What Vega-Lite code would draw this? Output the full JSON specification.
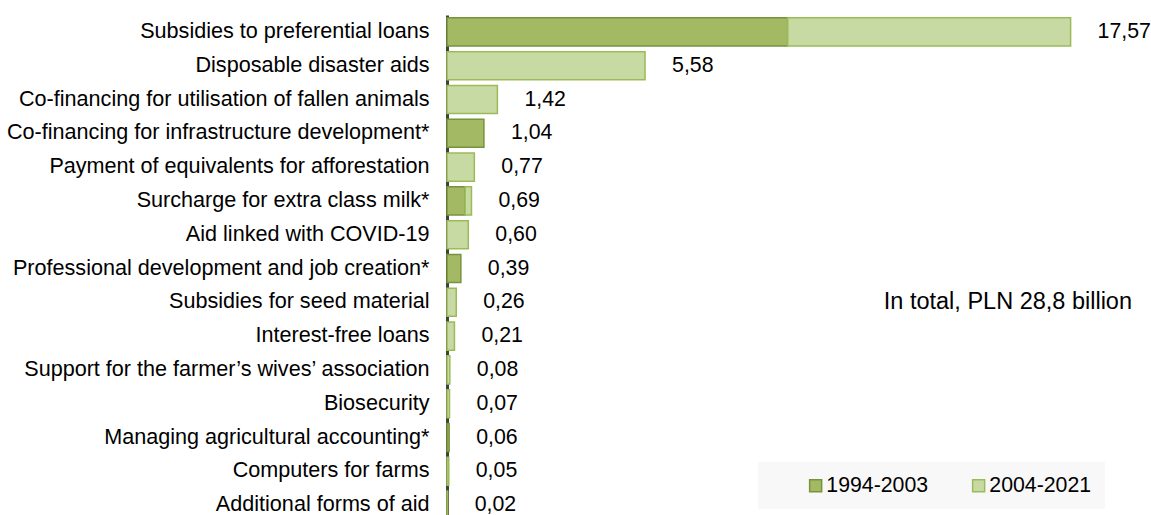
{
  "$schema": "https://vega.github.io/schema/vega-lite/v6.json",
  "width": 685,
  "height": 507,
  "autosize": {"type": "none"},
  "padding": {"left": 447, "top": 15, "right": 19, "bottom": 0},
  "background": "white",
  "config": {
    "font": "Liberation Sans",
    "view": {"stroke": null},
    "locale": {"number": {"decimal": ",", "thousands": " ", "grouping": [3], "currency": ["", " zł"]}}
  },
  "data": {
    "values": [
      {"cat": "Subsidies to preferential loans", "period": "1994-2003", "value": 9.60},
      {"cat": "Subsidies to preferential loans", "period": "2004-2021", "value": 7.97},
      {"cat": "Disposable disaster aids", "period": "2004-2021", "value": 5.58},
      {"cat": "Co-financing for utilisation of fallen animals", "period": "2004-2021", "value": 1.42},
      {"cat": "Co-financing for infrastructure development*", "period": "1994-2003", "value": 1.04},
      {"cat": "Payment of equivalents for afforestation", "period": "2004-2021", "value": 0.77},
      {"cat": "Surcharge for extra class milk*", "period": "1994-2003", "value": 0.51},
      {"cat": "Surcharge for extra class milk*", "period": "2004-2021", "value": 0.18},
      {"cat": "Aid linked with COVID-19", "period": "2004-2021", "value": 0.60},
      {"cat": "Professional development and job creation*", "period": "1994-2003", "value": 0.39},
      {"cat": "Subsidies for seed material", "period": "2004-2021", "value": 0.26},
      {"cat": "Interest-free loans", "period": "2004-2021", "value": 0.21},
      {"cat": "Support for the farmer’s wives’ association", "period": "2004-2021", "value": 0.08},
      {"cat": "Biosecurity", "period": "2004-2021", "value": 0.07},
      {"cat": "Managing agricultural accounting*", "period": "1994-2003", "value": 0.06},
      {"cat": "Computers for farms", "period": "2004-2021", "value": 0.05},
      {"cat": "Additional forms of aid", "period": "2004-2021", "value": 0.02}
    ]
  },
  "encoding": {
    "y": {
      "field": "cat",
      "type": "nominal",
      "sort": [
        "Subsidies to preferential loans",
        "Disposable disaster aids",
        "Co-financing for utilisation of fallen animals",
        "Co-financing for infrastructure development*",
        "Payment of equivalents for afforestation",
        "Surcharge for extra class milk*",
        "Aid linked with COVID-19",
        "Professional development and job creation*",
        "Subsidies for seed material",
        "Interest-free loans",
        "Support for the farmer’s wives’ association",
        "Biosecurity",
        "Managing agricultural accounting*",
        "Computers for farms",
        "Additional forms of aid"
      ],
      "scale": {"paddingInner": 0.17, "paddingOuter": 0.085},
      "axis": {
        "title": null,
        "ticks": false,
        "labelFontSize": 21.6,
        "labelColor": "#000000",
        "labelPadding": 18,
        "labelLimit": 440,
        "domainColor": "#404040",
        "domainWidth": 3
      }
    }
  },
  "layer": [
    {
      "mark": {"type": "bar", "strokeWidth": 1.5},
      "encoding": {
        "x": {
          "field": "value",
          "type": "quantitative",
          "stack": "zero",
          "scale": {"domain": [0, 19.3], "nice": false},
          "axis": null
        },
        "order": {"field": "period", "sort": "ascending"},
        "fill": {
          "field": "period",
          "type": "nominal",
          "scale": {"domain": ["1994-2003", "2004-2021"], "range": ["#A3B963", "#C8DAA4"]},
          "legend": {
            "title": null,
            "orient": "none",
            "direction": "horizontal",
            "legendX": 311,
            "legendY": 447,
            "fillColor": "#F8F8F8",
            "padding": 13,
            "symbolType": "square",
            "symbolSize": 144,
            "symbolStrokeWidth": 1.5,
            "symbolOffset": 34,
            "labelFontSize": 21.3,
            "labelColor": "#000000",
            "labelOffset": 0,
            "columnPadding": 5
          }
        },
        "stroke": {
          "field": "period",
          "type": "nominal",
          "scale": {"domain": ["1994-2003", "2004-2021"], "range": ["#77933C", "#9BBB59"]},
          "legend": {
            "title": null,
            "orient": "none",
            "direction": "horizontal",
            "legendX": 311,
            "legendY": 447,
            "fillColor": "#F8F8F8",
            "padding": 13,
            "symbolType": "square",
            "symbolSize": 144,
            "symbolStrokeWidth": 1.5,
            "symbolOffset": 34,
            "labelFontSize": 21.3,
            "labelColor": "#000000",
            "labelOffset": 0,
            "columnPadding": 5
          }
        }
      }
    },
    {
      "mark": {"type": "text", "align": "left", "dx": 27, "fontSize": 21.3, "color": "#000000"},
      "encoding": {
        "x": {"aggregate": "sum", "field": "value", "type": "quantitative"},
        "text": {"aggregate": "sum", "field": "value", "type": "quantitative", "format": ".2f"}
      }
    },
    {
      "data": {"values": [{"note": "In total, PLN 28,8 billion", "xpos": 19.3, "cat": "Subsidies for seed material"}]},
      "mark": {"type": "text", "align": "right", "fontSize": 23.5, "color": "#000000"},
      "encoding": {
        "x": {"field": "xpos", "type": "quantitative"},
        "text": {"field": "note"}
      }
    }
  ]
}
